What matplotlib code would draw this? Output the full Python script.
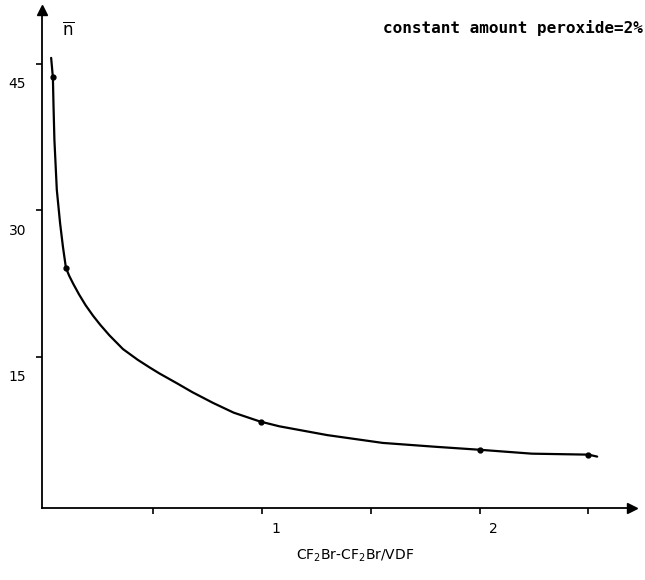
import matplotlib
matplotlib.use('Agg')
import matplotlib.pyplot as plt
import matplotlib.transforms as mtransforms

# curve as drawn (hand-traced line)
curve_x = [0.032, 0.04, 0.043, 0.047, 0.058, 0.073, 0.086, 0.10, 0.115, 0.133, 0.16, 0.19, 0.225, 0.257,
           0.30, 0.362, 0.43, 0.486, 0.53, 0.61, 0.68, 0.775, 0.87, 0.99, 1.08, 1.3, 1.555, 1.8, 2.0,
           2.24, 2.50, 2.54]
curve_y = [45.6, 43.6, 40.6, 37.2, 32.1, 28.7, 26.3, 24.1, 23.3, 22.5, 21.4, 20.3, 19.2, 18.3,
           17.2, 15.8, 14.7, 13.9, 13.3, 12.3, 11.4, 10.3, 9.3, 8.4, 7.9, 7.0, 6.2, 5.8, 5.5,
           5.1, 5.0, 4.8]
# measured points
pts_x = [0.04, 0.10, 0.995, 2.0, 2.5]
pts_y = [43.6, 24.1, 8.3, 5.5, 5.0]

xticks = [0.5, 1, 1.5, 2, 2.5]
xticklabels = ['', '1', '', '2', '']
yticks = [15, 30, 45]
yticklabels = ['15', '30', '45']

fig = plt.figure(figsize=(6.45, 5.8), dpi=100)
ax = fig.add_axes([42/645, 72/580, 590/645, 498/580])
ax.set_xlim(-0.01, 2.70)
ax.set_ylim(-0.46, 50.5)

ax.plot(curve_x, curve_y, color='black', lw=1.6, solid_capstyle='round', solid_joinstyle='round')
ax.plot(pts_x, pts_y, 'o', color='black', ms=3.5)

for s in ['top', 'right']:
    ax.spines[s].set_visible(False)
for s in ['left', 'bottom']:
    ax.spines[s].set_linewidth(1.3)

# arrow heads
ax.plot([1], [0], marker='>', color='black', ms=7, transform=ax.transAxes, clip_on=False)
ax.plot([0], [1], marker='^', color='black', ms=7, transform=ax.transAxes, clip_on=False)

ax.set_xticks(xticks, xticklabels)
ax.set_yticks(yticks, yticklabels)
ax.tick_params(axis='both', direction='out', length=4, width=1.2, labelsize=10)
ax.tick_params(axis='x', pad=6)
ax.tick_params(axis='y', pad=7.5)

dx = mtransforms.ScaledTranslation(14/100, 0, fig.dpi_scale_trans)
for lab in ax.get_xticklabels():
    lab.set_transform(lab.get_transform() + dx)
dy = mtransforms.ScaledTranslation(0, -19/100, fig.dpi_scale_trans)
for lab in ax.get_yticklabels():
    lab.set_transform(lab.get_transform() + dy)

fig.text(68/645, 1 - 30/580, r'$\overline{\mathregular{n}}$', fontsize=12, ha='center', va='center')
fig.text(643/645, 1 - 28/580, 'constant amount peroxide=2%', family='DejaVu Sans Mono',
         fontsize=11.5, ha='right', va='center', fontweight='bold')
fig.text(355/645, 1 - 556/580, r'CF$_{\mathregular{2}}$Br-CF$_{\mathregular{2}}$Br/VDF',
         fontsize=10, ha='center', va='center')

fig.savefig('out.png', dpi=100)
